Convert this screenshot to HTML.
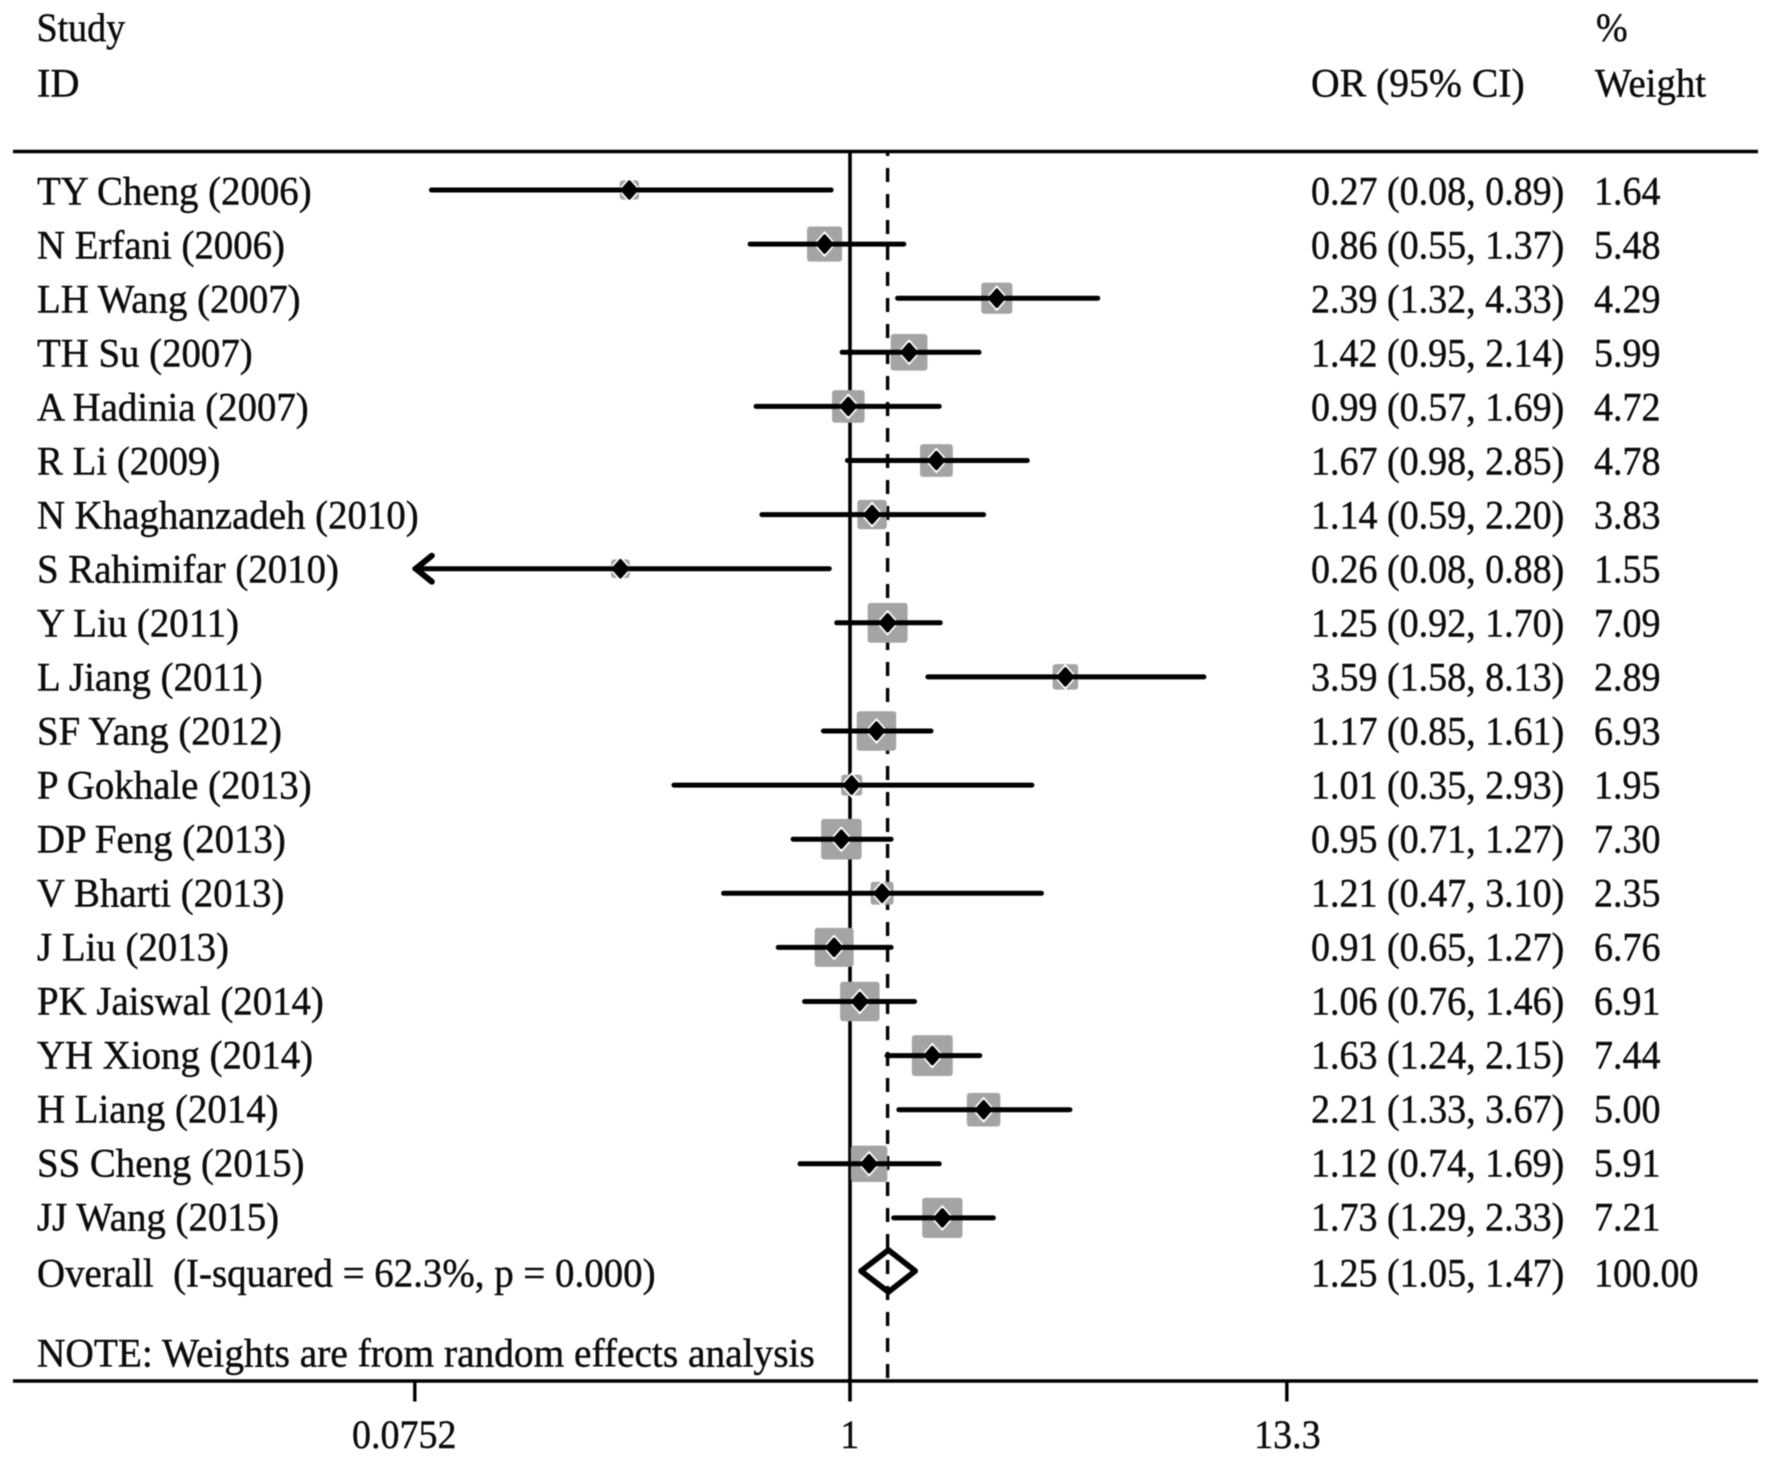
<!DOCTYPE html>
<html lang="en">
<head>
<meta charset="utf-8">
<title>Forest plot</title>
<style>
html,body{margin:0;padding:0;background:#fff;}
svg{display:block;filter:blur(0.45px);}
text{font-family:"Liberation Serif",serif;font-size:38px;fill:#0c0c0c;stroke:#0c0c0c;stroke-width:0.4px;white-space:pre;}
</style>
</head>
<body>
<svg id="forest" xmlns="http://www.w3.org/2000/svg" width="1772" height="1462" viewBox="0 0 1772 1462">
  <rect x="0" y="0" width="1772" height="1462" fill="#fff"/>
  <g>
    <text transform="translate(36.5 41) scale(1 1.07)">Study</text>
    <text transform="translate(37 96.7) scale(1.06 1.07)">ID</text>
    <text transform="translate(1311 96.7) scale(1.044 1.07)">OR (95% CI)</text>
    <text transform="translate(1596 41) scale(1 1.07)">%</text>
    <text transform="translate(1595 96.7) scale(1.02 1.07)">Weight</text>
  </g>
  <line x1="13" x2="1758" y1="151.5" y2="151.5" stroke="#000" stroke-width="3.6"/>
  <line x1="13" x2="1758" y1="1381" y2="1381" stroke="#000" stroke-width="3.6"/>
  <text transform="translate(37 1366.7) scale(1.036 1.07)">NOTE: Weights are from random effects analysis</text>
  <g id="plot"></g>
</svg>
<script>
const studies = ["TY Cheng (2006)","N Erfani (2006)","LH Wang (2007)","TH Su (2007)","A Hadinia (2007)","R Li (2009)","N Khaghanzadeh (2010)","S Rahimifar (2010)","Y Liu (2011)","L Jiang (2011)","SF Yang (2012)","P Gokhale (2013)","DP Feng (2013)","V Bharti (2013)","J Liu (2013)","PK Jaiswal (2014)","YH Xiong (2014)","H Liang (2014)","SS Cheng (2015)","JJ Wang (2015)"];
const oddsRatios = [0.27,0.86,2.39,1.42,0.99,1.67,1.14,0.256,1.25,3.59,1.17,1.01,0.95,1.21,0.91,1.06,1.63,2.21,1.12,1.73];
const ciLower = [0.083,0.55,1.32,0.95,0.57,0.98,0.59,0.0752,0.92,1.58,0.85,0.35,0.71,0.47,0.65,0.76,1.24,1.33,0.74,1.29];
const ciUpper = [0.89,1.37,4.33,2.14,1.69,2.85,2.20,0.88,1.70,8.13,1.61,2.93,1.27,3.10,1.27,1.46,2.15,3.67,1.69,2.33];
const weights = [1.64,5.48,4.29,5.99,4.72,4.78,3.83,1.55,7.09,2.89,6.93,1.95,7.30,2.35,6.76,6.91,7.44,5.00,5.91,7.21];
const overallLabel = ["Overall  (I-squared = 62.3%, p = 0.000)"];
const overallOR = [1.25];
const overallCI = [1.05,1.47];
const overallWeight = [100.00];
const tickValues = [0.0752,1,13.3];
const tickLabels = ["0.0752","1","13.3"];

const NS = "http://www.w3.org/2000/svg";
const plot = document.getElementById("plot");
const axisMin = tickValues[0];
const axisMax = tickValues[tickValues.length - 1];
const refShift = -0.8;
function xScale(v){ return 850.8 + 168.5 * Math.log(v); }
function rowY(i){ return 190 + 54.1 * i; }
function textY(i){ return 204.4 + 54 * i; }
function make(tag, attrs){
  const el = document.createElementNS(NS, tag);
  for (const k in attrs) el.setAttribute(k, attrs[k]);
  plot.appendChild(el);
  return el;
}
function makeText(str, x, y, anchor, sx){
  const el = make("text", {transform:"translate(" + x + " " + y + ") scale(" + (sx || 1) + " 1.07)", "text-anchor":anchor || "start"});
  el.textContent = str;
  return el;
}
function fmtCI(o, l, u){ return o.toFixed(2) + " (" + l.toFixed(2) + ", " + u.toFixed(2) + ")"; }

const refLine = make("line", {x1:xScale(1)+refShift, x2:xScale(1)+refShift, y1:152, y2:1401.5, stroke:"#000", "stroke-width":3.6});



const overallLine = make("line", {x1:xScale(overallOR[0])+refShift, x2:xScale(overallOR[0])+refShift, y1:153, y2:1381, stroke:"#000", "stroke-width":3.4, "stroke-dasharray":"14 12", "stroke-dashoffset":11});



tickValues.forEach(function(v, i){
  if (v !== 1) {
    const tick = make("line", {x1:xScale(v), x2:xScale(v), y1:1381, y2:1401.5, stroke:"#000", "stroke-width":3.4});
    
    
  }
  const shift = i === 0 ? -10.5 : (i === 2 ? 0.5 : -1);
  const lab = makeText(tickLabels[i], xScale(v) + shift, 1448, "middle");
  
  
});

studies.forEach(function(name, i){
  const y = rowY(i);
  const cx = xScale(oddsRatios[i]) + refShift;
  const side = 15 * Math.sqrt(weights[i]);
  const x1 = xScale(Math.max(ciLower[i], axisMin));
  const x2 = xScale(Math.min(ciUpper[i], axisMax));

  const sq = make("rect", {x:cx - side / 2, y:y - side / 2, width:side, height:side, fill:"#a4a4a4", rx:3});
  
  

  const halo = make("polygon", {points:[cx,y-12,cx+10.5,y,cx,y+12,cx-10.5,y].join(","), fill:"#fff", stroke:"#fff", "stroke-width":1.5, "stroke-linejoin":"round"});
  
  

  const ci = make("line", {x1:x1, x2:x2, y1:y, y2:y, stroke:"#000", "stroke-width":5, "stroke-linecap":"round"});
  
  

  if (ciLower[i] <= axisMin) {
    const arrow = make("polyline", {points:[x1+17,y-13,x1+1,y,x1+17,y+13].join(","), fill:"none", stroke:"#000", "stroke-width":6, "stroke-linecap":"round", "stroke-linejoin":"round"});
    
    
  }

  const dot = make("polygon", {points:[cx,y-8,cx+7,y,cx,y+8,cx-7,y].join(","), fill:"#000", stroke:"#000", "stroke-width":3.4, "stroke-linejoin":"round"});
  
  

  const lab = makeText(name, 37, textY(i), "start", 1.022);
  
  

  const orText = makeText(fmtCI(oddsRatios[i], ciLower[i], ciUpper[i]), 1311, textY(i));
  
  

  const wText = makeText(weights[i].toFixed(2), 1594, textY(i));
  
  
});

const dy = rowY(studies.length) - 1;
const dL = xScale(overallCI[0]) + 2;
const dR = xScale(overallCI[1]) - 0.5;
const dC = xScale(overallOR[0]);
const diamond = make("polygon", {points:[dL,dy,dC,dy-21,dR,dy,dC,dy+21].join(","), fill:"none", stroke:"#000", "stroke-width":5.6, "stroke-linejoin":"round"});



const overallTextY = 1286.7;
const ovLabel = makeText(overallLabel[0], 37, overallTextY, "start", 1.024);



const ovCI = makeText(fmtCI(overallOR[0], overallCI[0], overallCI[1]), 1311, overallTextY);



const ovW = makeText(overallWeight[0].toFixed(2), 1594, overallTextY);


</script>
</body>
</html>
